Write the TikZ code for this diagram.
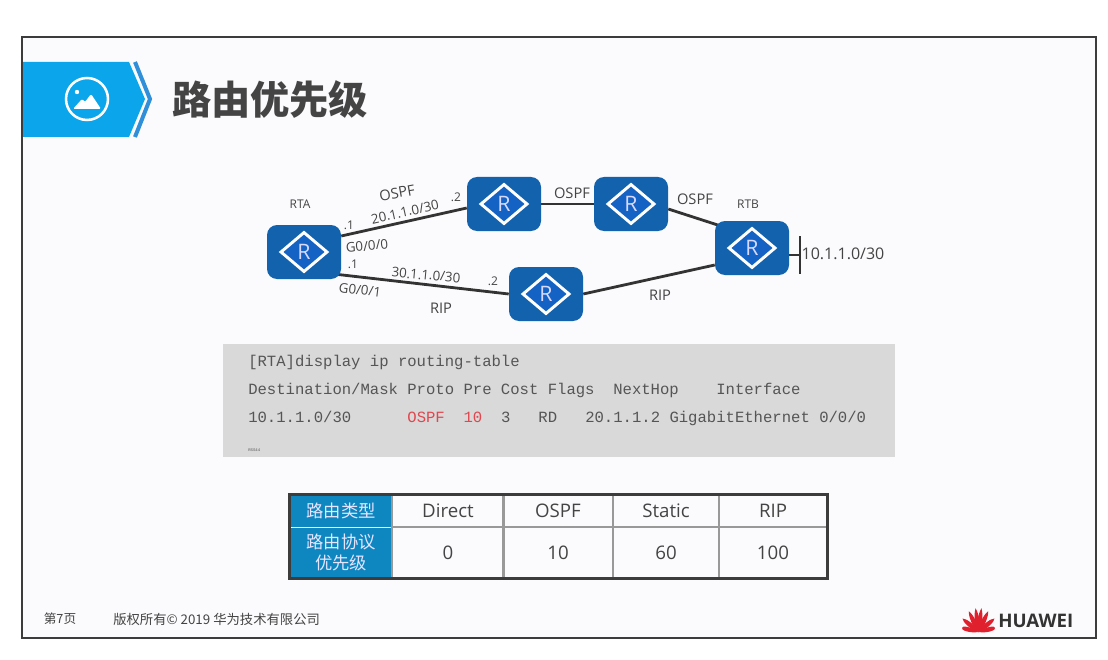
\documentclass[tikz,border=0pt]{standalone}
\usepackage{fontspec}
\setmainfont{Open Sans}
\setmonofont{Liberation Mono}
\newfontfamily\cjk{Noto Sans CJK SC}
\usepackage{xcolor}
\usetikzlibrary{shapes,backgrounds,positioning}

\definecolor{frameline}{HTML}{3C3C3C}
\definecolor{slidebg}{HTML}{FBFBFD}
\definecolor{bannerblue}{HTML}{0BA5EC}
\definecolor{chevronblue}{HTML}{2F8FD8}
\definecolor{rtrblue}{HTML}{1262AE}
\definecolor{rtrinner}{HTML}{1463C4}
\definecolor{linkgray}{HTML}{333333}
\definecolor{labelgray}{HTML}{444444}
\definecolor{codegray}{HTML}{D9D9D9}
\definecolor{codetext}{HTML}{555555}
\definecolor{codered}{HTML}{E0474F}
\definecolor{headblue}{HTML}{0E86C0}
\definecolor{cellline}{HTML}{999999}
\definecolor{huaweired}{HTML}{E0202C}

\tikzset{
    rtr/.style={fill=rtrblue, rounded corners=7.5pt, minimum width=55.5pt, minimum height=40.5pt,
        inner sep=0pt, text=white!85!blue, font=\fontsize{16}{18}\selectfont,
        path picture={
            \draw[white, sharp corners, line width=2.2pt, fill=rtrinner]
                ([xshift=-17.25pt]path picture bounding box.center) --
                ([yshift=14.6pt]path picture bounding box.center) --
                ([xshift=17.25pt]path picture bounding box.center) --
                ([yshift=-14.6pt]path picture bounding box.center) -- cycle;
        }},
    link/.style={draw=linkgray, line width=2.1pt},
    lbl/.style={text=labelgray, inner sep=0pt, font=\fontsize{11}{13}\selectfont},
    tiny lbl/.style={lbl, font=\fontsize{9}{11}\selectfont},
    net lbl/.style={lbl, font=\fontsize{10}{12}\selectfont},
    codeline/.style={anchor=west, inner sep=0pt, text=codetext, font=\ttfamily\fontsize{11.7}{14}\selectfont},
    cell/.style={draw=cellline, line width=1pt, inner sep=0pt, text=labelgray, font=\fontsize{14}{16}\selectfont},
    headcell/.style={fill=headblue, inner sep=0pt, align=center, text=white!90!blue, font=\cjk\fontsize{13}{16}\selectfont}
}

\begin{document}
\begin{tikzpicture}[x=0.75pt, y=-0.75pt]
    \useasboundingbox (0,0) rectangle (1108,660);

    % routers
    \node[rtr] (rta) at (304,252) {R};
    \node[rtr] (rtc) at (504,204) {R};
    \node[rtr] (rtd) at (631,204) {R};
    \node[rtr] (rtb) at (752,248) {R};
    \node[rtr] (rte) at (546,294) {R};
    \coordinate (lan) at (800,255);

    % slide and links
    \begin{scope}[on background layer]
        \fill[white] (0,0) rectangle (1108,660);
        \draw[frameline, line width=1.2pt, fill=slidebg] (22,37) rectangle (1096,638);
        \draw[link] ([yshift=12pt]rta.east) -- ([yshift=-3pt]rtc.west);
        \draw[link] ([xshift=-3pt,yshift=-16.8pt]rta.east) -- (rte.west);
        \draw[link] (rtc.east) -- (rtd.west);
        \draw[link] ([yshift=-3.75pt]rtd.east) -- ([xshift=3pt,yshift=17pt]rtb.west);
        \draw[link] (rte.east) -- ([yshift=-12.75pt]rtb.west);
        \draw[link] ([yshift=-5.25pt]rtb.east) -- (lan);
    \end{scope}
    \draw[link] ([yshift=14pt]lan) -- ([yshift=-14pt]lan);

    % banner
    \fill[bannerblue] (23,62) -- (129,62) -- (145,99) -- (129,137) -- (23,137) -- cycle;
    \draw[chevronblue, line width=3pt] (135,62) -- (150,99) -- (135,137);
    \draw[white, line width=1.9pt] (87,99) circle (21);
    \fill[white] (77,92) circle (2.2);
    \fill[white, rounded corners=1pt] (73,109) -- (82,99) -- (85,102) -- (91,94) -- (101,109) -- cycle;
    \node[inner sep=0pt, text=labelgray] (title) at (270,100) {\cjk\bfseries\fontsize{29.4}{32}\selectfont 路由优先级};

    % labels
    \node[tiny lbl] (lblrta) at (300,204) {RTA};
    \node[tiny lbl] (lblrtb) at (748,204) {RTB};
    \node[lbl, rotate=10] (ospfa) at (397,193) {OSPF};
    \node[lbl] (ospfb) at (572,193) {OSPF};
    \node[lbl] (ospfc) at (695,199) {OSPF};
    \node[lbl] (ripa) at (441,308) {RIP};
    \node[lbl] (ripb) at (660,295) {RIP};
    \node[net lbl, rotate=12.5] (neta) at (405,212) {20.1.1.0/30};
    \node[net lbl, rotate=-5] (netb) at (426,275) {30.1.1.0/30};
    \node[lbl, font=\fontsize{12}{14}\selectfont] (netc) at (843,254) {10.1.1.0/30};
    \node[net lbl, rotate=5] (ifa) at (367,246) {G0/0/0};
    \node[net lbl, rotate=-7] (ifb) at (360,290) {G0/0/1};
    \node[tiny lbl] (dota) at (349,225) {.1};
    \node[tiny lbl] (dotb) at (353,264) {.1};
    \node[tiny lbl] (dotc) at (456,197) {.2};
    \node[tiny lbl] (dotd) at (493,281) {.2};

    % display output
    \fill[codegray] (223,344) rectangle (895,457);
    \node[codeline] (cmd) at (248,362) {[RTA]display ip routing-table};
    \node[codeline] (head) at (248,390) {Destination/Mask Proto Pre Cost Flags\ \ NextHop\ \ \ \ Interface};
    \node[codeline] (route) at (248,418) {10.1.1.0/30\ \ \ \ \ \ \textcolor{codered}{OSPF}\ \ \textcolor{codered}{10}\ \ 3\ \ \ RD\ \ \ 20.1.1.2 GigabitEthernet 0/0/0};
    \node[codeline, font=\ttfamily\fontsize{3}{4}\selectfont] (code) at (248,450) {RSS44};

    % preference table
    \def\rowa{511}
    \def\rowb{552.5}
    \node[headcell, minimum width=76.5pt, minimum height=24pt] (hd) at (341,511) {路由类型};
    \node[headcell, minimum width=76.5pt, minimum height=37.5pt] (hp) at (341,552.5) {路由协议\\优先级};
    \foreach \name/\cx/\cw/\typ/\pref in {a/448/84/Direct/0, b/558/82.5/OSPF/10, c/666/80.25/Static/60, d/773/81/RIP/100} {
        \node[cell, minimum width=\cw pt, minimum height=24pt] (t\name) at (\cx,\rowa) {\typ};
        \node[cell, minimum width=\cw pt, minimum height=37.5pt] (p\name) at (\cx,\rowb) {\pref};
    }
    \draw[frameline, line width=2pt] (hd.north west) rectangle (pd.south east);

    % footer
    \node[inner sep=0pt, text=labelgray] (page) at (60,619) {\cjk\fontsize{9.5}{11}\selectfont 第7页};
    \node[anchor=west, inner sep=0pt, text=labelgray] (copy) at (113,619) {\cjk\fontsize{10}{12}\selectfont 版权所有© 2019 华为技术有限公司};

    % logo
    \foreach \ang/\len in {-76/17, -50/21, -25/23, -7/24, 7/24, 25/23, 50/21, 76/17} {
        \fill[huaweired, rotate around={\ang:(978.5,632)}]
            (978.5,632) .. controls (975,624) and (976,614) .. (978.5,632-\len)
            .. controls (981,614) and (982,624) .. (978.5,632) -- cycle;
    }
    \node[anchor=west, inner sep=0pt, text=linkgray] (brand) at (998,621) {\bfseries\fontsize{14}{16}\selectfont HUAWEI};
\end{tikzpicture}
\end{document}
